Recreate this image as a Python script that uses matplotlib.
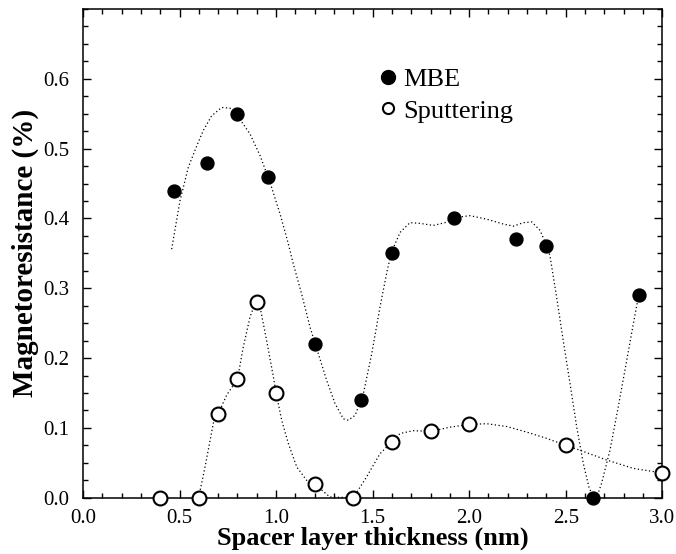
import matplotlib
matplotlib.use("Agg")
import matplotlib.pyplot as plt
from matplotlib.ticker import MultipleLocator

plt.rcParams["font.family"] = ["Liberation Serif", "DejaVu Serif"]

# measured points
mbe_x = [0.47, 0.64, 0.80, 0.96, 1.20, 1.44, 1.60, 1.92, 2.24, 2.40, 2.64, 2.88]
mbe_y = [0.44, 0.48, 0.55, 0.46, 0.22, 0.14, 0.35, 0.40, 0.37, 0.36, 0.00, 0.29]

sput_x = [0.40, 0.60, 0.70, 0.80, 0.90, 1.00, 1.20, 1.40, 1.60, 1.80, 2.00, 2.50, 3.00]
sput_y = [0.00, 0.00, 0.12, 0.17, 0.28, 0.15, 0.02, 0.00, 0.08, 0.095, 0.105, 0.075, 0.035]

# guide-to-the-eye curves
mbe_fit_x = [0.459, 0.502, 0.545, 0.589, 0.623, 0.666, 0.718, 0.761, 0.813, 0.865,
             0.917, 0.968, 1.020, 1.063, 1.089, 1.132, 1.176, 1.219, 1.262, 1.305,
             1.348, 1.374, 1.409, 1.452, 1.495, 1.538, 1.575, 1.598, 1.642, 1.693,
             1.745, 1.814, 1.875, 1.918, 2.004, 2.091, 2.177, 2.229, 2.280, 2.324,
             2.367, 2.401, 2.418, 2.453, 2.487, 2.522, 2.557, 2.591, 2.622, 2.645,
             2.665, 2.686, 2.729, 2.772, 2.816, 2.850, 2.871, 2.880]
mbe_fit_y = [0.356, 0.425, 0.473, 0.504, 0.526, 0.547, 0.559, 0.558, 0.542, 0.521,
             0.490, 0.452, 0.407, 0.364, 0.335, 0.292, 0.244, 0.206, 0.168, 0.135,
             0.113, 0.111, 0.118, 0.149, 0.206, 0.273, 0.325, 0.352, 0.380, 0.394,
             0.393, 0.390, 0.394, 0.401, 0.404, 0.399, 0.392, 0.389, 0.394, 0.395,
             0.383, 0.361, 0.347, 0.287, 0.225, 0.164, 0.101, 0.049, 0.013, 0.002,
             0.004, 0.021, 0.068, 0.130, 0.197, 0.249, 0.280, 0.290]

sput_fit_x = [0.603, 0.632, 0.658, 0.678, 0.700, 0.744, 0.800, 0.830, 0.865, 0.891,
              0.917, 0.951, 0.986, 1.000, 1.029, 1.063, 1.107, 1.158, 1.200, 1.240,
              1.279, 1.400, 1.469, 1.538, 1.600, 1.642, 1.711, 1.800, 1.900, 2.000,
              2.091, 2.194, 2.298, 2.401, 2.500, 2.574, 2.712, 2.850, 2.988]
sput_fit_y = [0.006, 0.044, 0.082, 0.111, 0.120, 0.147, 0.170, 0.216, 0.259, 0.278,
              0.273, 0.225, 0.173, 0.150, 0.111, 0.078, 0.044, 0.025, 0.020, 0.010,
              0.001, 0.000, 0.030, 0.063, 0.080, 0.092, 0.096, 0.095, 0.101, 0.105,
              0.106, 0.102, 0.094, 0.085, 0.075, 0.068, 0.054, 0.042, 0.036]

fig = plt.figure(figsize=(6.76, 5.54), dpi=100)
ax = fig.add_axes([0.1228, 0.1016, 0.8569, 0.8821])

dots = (0, (1, 2))
ax.plot(mbe_fit_x, mbe_fit_y, color="black", lw=0.9, ls=dots, zorder=2)
ax.plot(sput_fit_x, sput_fit_y, color="black", lw=0.9, ls=dots, zorder=2)

h_mbe, = ax.plot(mbe_x, mbe_y, "o", color="black", ms=9.3, zorder=4,
                 clip_on=False, label="MBE")
h_sput, = ax.plot(sput_x, sput_y, "o", mfc="white", mec="black", mew=1.5, ms=10,
                  zorder=4, clip_on=False, label="Sputtering")

ax.set_xlim(0, 3.0)
ax.set_ylim(0, 0.7)
ax.set_xticks([0.0, 0.5, 1.0, 1.5, 2.0, 2.5, 3.0])
ax.set_yticks([0.0, 0.1, 0.2, 0.3, 0.4, 0.5, 0.6])
ax.xaxis.set_minor_locator(MultipleLocator(0.1))
ax.yaxis.set_minor_locator(MultipleLocator(0.025))
ax.tick_params(which="both", direction="in", top=True, right=True,
               labelsize=15, width=1.0)
ax.tick_params(axis="x", which="both", pad=8)
ax.tick_params(axis="y", which="both", pad=10)
ax.tick_params(which="major", length=6)
ax.tick_params(which="minor", length=3.5)
for s in ax.spines.values():
    s.set_linewidth(1.1)

ax.set_xlabel("Spacer layer thickness (nm)", fontsize=19, fontweight="bold", labelpad=-1)
ax.set_ylabel("Magnetoresistance (%)", fontsize=21, fontweight="bold", labelpad=3)

leg = ax.legend(handles=[h_mbe, h_sput], loc="upper left",
                bbox_to_anchor=(0.51, 0.88), frameon=False, fontsize=19,
                handlelength=0.7, handletextpad=0.25, labelspacing=0.3,
                borderpad=0, borderaxespad=0, numpoints=1)
leg.legend_handles[0].set_markersize(10)
leg.legend_handles[1].set_markersize(8)

fig.savefig("out.png", dpi=100)
